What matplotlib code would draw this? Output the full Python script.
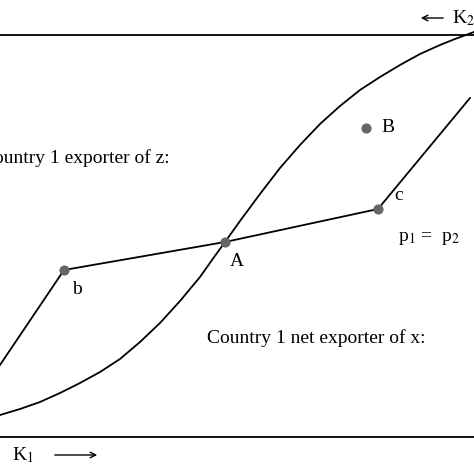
import matplotlib.pyplot as plt

# coordinates in picture units (x right, y down), 474 x 474
curve_x = [0, 20, 40, 60, 80, 100, 120, 140, 160, 180, 200, 212, 225,
           240, 260, 280, 300, 320, 340, 360, 380, 400, 420, 440, 455, 474]
curve_y = [415, 409, 402, 393, 383, 372, 359, 342, 323, 301, 277, 260, 242,
           221, 194, 168, 145, 124, 106, 90, 77, 65, 54, 45, 39, 32]

price_x = [0, 64, 225, 378, 470]
price_y = [365, 270, 242, 209, 98]

dots_x = [64, 225, 378, 366]
dots_y = [270, 242, 209, 128]

labels = [
    (72, 290, "b"), (230, 262, "A"), (394, 196, "c"), (381, 127, "B"),
    (398, 238, "p$_1$ =  p$_2$"),
    (-6, 158, "ountry 1 exporter of z:"),
    (207, 338, "Country 1 net exporter of x:"),
]

plt.rcParams["font.family"] = ["Liberation Serif", "DejaVu Serif"]
plt.rcParams["mathtext.fontset"] = "stix"

fig = plt.figure(figsize=(4.74, 4.74), dpi=100)
ax = fig.add_axes([0, 0, 1, 1])
ax.set_xlim(0, 474)
ax.set_ylim(474, 0)
ax.axis("off")

ax.plot([0, 474], [35, 35], color="black", lw=1.3)
ax.plot([0, 474], [437, 437], color="black", lw=1.3)
ax.plot(curve_x, curve_y, color="black", lw=1.3, solid_joinstyle="round")
ax.plot(price_x, price_y, color="black", lw=1.3)
ax.scatter(dots_x, dots_y, s=40, color="#666666", zorder=3)

for x, y, t in labels:
    ax.text(x, y, t, fontsize=14, ha="left", va="center")

ax.annotate("", xy=(418, 18), xytext=(446, 18),
            arrowprops=dict(arrowstyle="->", color="black", lw=1))
ax.text(452, 18, "K$_2$", fontsize=14, va="center")
ax.annotate("", xy=(100, 455), xytext=(52, 455),
            arrowprops=dict(arrowstyle="->", color="black", lw=1))
ax.text(12, 455, "K$_1$", fontsize=14, va="center")

fig.savefig("out.png", dpi=100)
